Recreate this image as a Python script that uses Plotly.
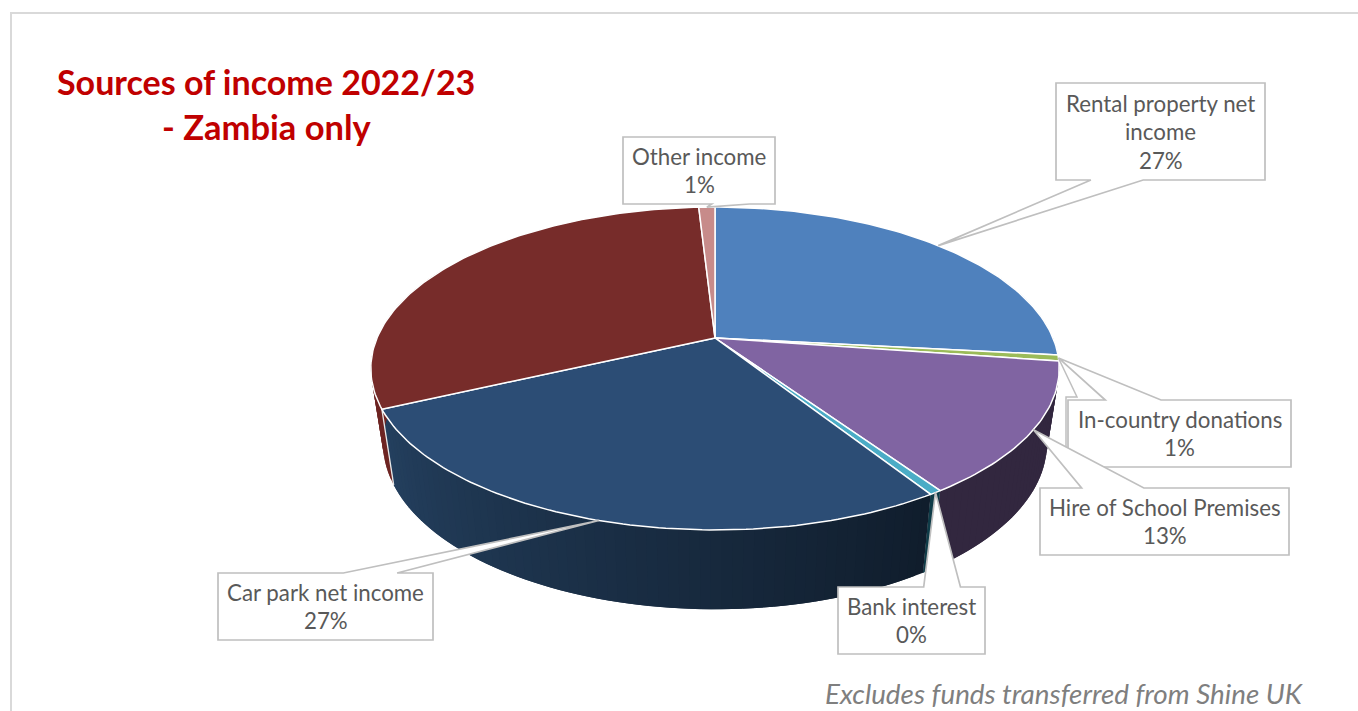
import math
import plotly.graph_objects as go

# ---- data ----
categories = ["Rental property net income", "In-country donations", "Hire of School Premises",
              "Bank interest", "Car park net income", "", "Other income"]
values = [26.7, 0.6, 13.2, 0.49, 27.1, 31.0, 0.91]
pct_labels = ["27%", "1%", "13%", "0%", "27%", "", "1%"]
top_colors = ["#4F81BD", "#9BBB59", "#8064A2", "#4BACC6", "#2C4D75", "#772C2A", "#C78B8A"]
wall_left = ["#3B618F", "#74903F", "#32273F", "#0F3C48", "#24405F", "#6E2523", "#8A5F5E"]
wall_right = ["#3B618F", "#74903F", "#32273F", "#0F3C48", "#101D2C", "#6E2523", "#8A5F5E"]

title_lines = ["Sources of income 2022/23", "- Zambia only"]
footnote = "Excludes funds transferred from Shine UK"

# ---- projection of the pie disc (tilted, with perspective) ----
CX = 715
K = 0.189
TOP = dict(r=338, b=155.7, y0=338)
BOT = dict(r=326, b=160, y0=412)


def project(theta, disc, rad=1.0):
    u, v = rad * math.sin(theta), -rad * math.cos(theta)
    d = 1 - K * v
    return CX + disc["r"] * u / d, disc["y0"] + disc["b"] * v / d


def hex_mix(a, b, t):
    ca = [int(a[i:i + 2], 16) for i in (1, 3, 5)]
    cb = [int(b[i:i + 2], 16) for i in (1, 3, 5)]
    return "#%02x%02x%02x" % tuple(round(x + (y - x) * t) for x, y in zip(ca, cb))


total = sum(values)
edges = [0.0]
for val in values:
    edges.append(edges[-1] + val / total * 2 * math.pi)

fig = go.Figure()

# outer walls: each strip overlaps the next one so that no seams show
for i, val in enumerate(values):
    a0, a1 = edges[i], edges[i + 1]
    n = max(2, int((a1 - a0) / (2 * math.pi) * 240))
    for j in range(n):
        t0 = a0 + (a1 - a0) * j / n
        t1 = a0 + (a1 - a0) * min(j + 2, n) / n
        if math.cos((t0 + t1) / 2) > 0.45:
            continue
        p0, p1 = project(t0, TOP), project(t1, TOP)
        q0, q1 = project(t0, BOT), project(t1, BOT)
        col = hex_mix(wall_left[i], wall_right[i], 1 - (j + 0.5) / n)
        fig.add_trace(go.Scatter(x=[p0[0], p1[0], q1[0], q0[0], p0[0]],
                                 y=[p0[1], p1[1], q1[1], q0[1], p0[1]],
                                 mode="lines", fill="toself", fillcolor=col,
                                 line=dict(color=col, width=0), hoverinfo="skip", showlegend=False))

# white seam where the car park wall meets the neighbouring wall
seam_top = project(edges[5], TOP)
seam_bot = project(edges[5], BOT)
fig.add_trace(go.Scatter(x=[seam_top[0], seam_bot[0]], y=[seam_top[1], seam_bot[1]], mode="lines",
                         line=dict(color="#E8E8E8", width=1.3), hoverinfo="skip", showlegend=False))

# top faces
for i, val in enumerate(values):
    a0, a1 = edges[i], edges[i + 1]
    n = max(4, int((a1 - a0) / (2 * math.pi) * 360))
    xs, ys = [CX], [TOP["y0"]]
    for j in range(n + 1):
        px, py = project(a0 + (a1 - a0) * j / n, TOP)
        xs.append(px)
        ys.append(py)
    xs.append(CX)
    ys.append(TOP["y0"])
    fig.add_trace(go.Scatter(x=xs, y=ys, mode="lines", fill="toself", fillcolor=top_colors[i],
                             line=dict(color="#FFFFFF", width=1.5), name=categories[i],
                             hoverinfo="skip", showlegend=False))

# callouts: box (x0, y0, x1, y1), one per labelled slice
boxes = {
    0: (1056, 83, 1265, 180),
    1: (1068, 400, 1291, 467),
    2: (1040, 488, 1289, 555),
    3: (838, 587, 985, 654),
    4: (218, 573, 433, 640),
    6: (623, 137, 775, 204),
}
text_lines = {
    0: ["Rental property net", "income", pct_labels[0]],
    1: [categories[1], pct_labels[1]],
    2: [categories[2], pct_labels[2]],
    3: [categories[3], pct_labels[3]],
    4: [categories[4], pct_labels[4]],
    6: [categories[6], pct_labels[6]],
}
GREY = "#BFBFBF"
shapes = []
annotations = []
for i, (x0, y0, x1, y1) in boxes.items():
    tip = project((edges[i] + edges[i + 1]) / 2, TOP)
    w = x1 - x0
    f1, f2 = (0.583, 0.833) if i in (3, 4, 6) else (0.167, 0.417)
    b1, b2 = x0 + w * f1, x0 + w * f2
    if tip[1] < y0:
        path = (f"M {x0},{y0} L {b1},{y0} L {tip[0]},{tip[1]} L {b2},{y0} L {x1},{y0} "
                f"L {x1},{y1} L {x0},{y1} Z")
    else:
        path = (f"M {x0},{y0} L {x1},{y0} L {x1},{y1} L {b2},{y1} L {tip[0]},{tip[1]} "
                f"L {b1},{y1} L {x0},{y1} Z")
    shapes.append(dict(type="path", path=path, fillcolor="white", line=dict(color=GREY, width=1.7),
                       xref="x", yref="y", layer="above"))
    lines = text_lines[i]
    cy = (y0 + y1) / 2
    for k, line in enumerate(lines):
        annotations.append(dict(x=(x0 + x1) / 2, y=cy + (k - (len(lines) - 1) / 2) * 28.5, text=line,
                                xref="x", yref="y", showarrow=False, xanchor="center", yanchor="middle",
                                font=dict(family="Lato", size=22.3, color="#595959")))

# extra faint outline behind the in-country box
tip1 = project((edges[1] + edges[2]) / 2, TOP)
shapes.insert(0, dict(type="path", path=f"M {tip1[0]},{tip1[1]} L 1077,397 L 1066,397 L 1066,447",
                      line=dict(color=GREY, width=1.5), xref="x", yref="y", layer="above"))

# frame
shapes.insert(0, dict(type="path", path="M 11,711 L 11,13 L 1358,13",
                      line=dict(color="#D9D9D9", width=2), xref="x", yref="y", layer="below"))

annotations.append(dict(x=266, y=81, text=f"<b>{title_lines[0]}</b>", xref="x", yref="y", showarrow=False,
                        xanchor="center", yanchor="middle",
                        font=dict(family="Lato", size=34, color="#C00000")))
annotations.append(dict(x=267, y=126, text=f"<b>{title_lines[1]}</b>", xref="x", yref="y", showarrow=False,
                        xanchor="center", yanchor="middle",
                        font=dict(family="Lato", size=34.5, color="#C00000")))
annotations.append(dict(x=1064, y=711, text=f"<i>{footnote}</i>", xref="x", yref="y", showarrow=False,
                        xanchor="center", yanchor="bottom", borderpad=0,
                        font=dict(family="Lato", size=27.8, color="#7F7F7F")))

fig.update_layout(
    width=1358, height=711, margin=dict(l=0, r=0, t=0, b=0),
    paper_bgcolor="white", plot_bgcolor="white", showlegend=False,
    xaxis=dict(range=[0, 1358], visible=False, fixedrange=True),
    yaxis=dict(range=[711, 0], visible=False, fixedrange=True),
    shapes=shapes, annotations=annotations,
)
fig.write_html("out.html", config={"displayModeBar": False},
               post_script="document.body.style.margin='0';document.body.style.overflow='hidden';")
